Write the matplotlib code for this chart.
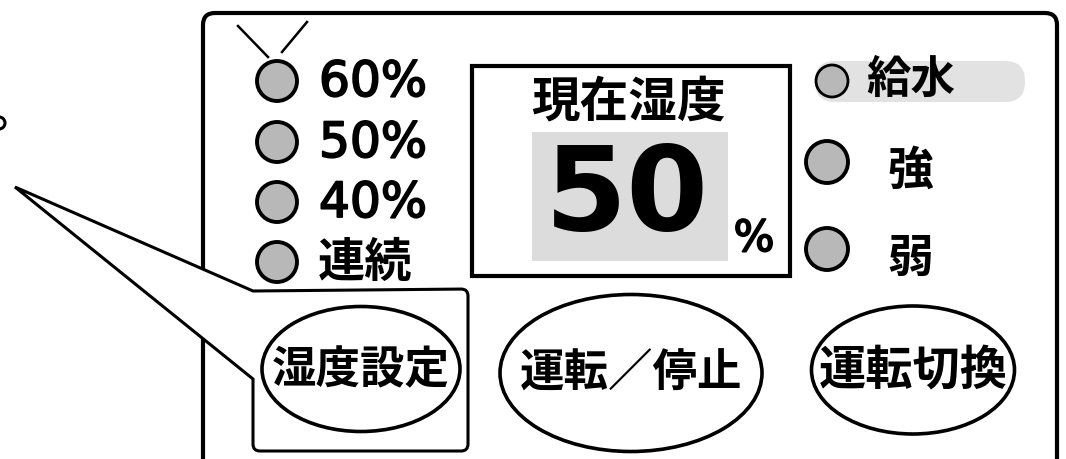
import matplotlib.pyplot as plt
import matplotlib.patheffects as pe
from matplotlib.patches import Circle, Ellipse, Rectangle, FancyBboxPatch, PathPatch
from matplotlib.path import Path

# Control panel contents
humidity_levels = ["60%", "50%", "40%", "連続"]
display_title = "現在湿度"
display_value = "50"
display_unit = "%"
status_labels = ["給水", "強", "弱"]
button_labels = ["湿度設定", "運転／停止", "運転切換"]

JP = ["Noto Sans CJK JP", "DejaVu Sans"]
LED_GRAY = "#b8b8b8"
# slightly heavier than regular DejaVu, lighter than bold
medium = [pe.withStroke(linewidth=1.3, foreground="black")]


def rounded_poly(ax, pts, radius, **kw):
    # polygon with a rounded corner wherever radius > 0
    verts, codes = [], []
    n = len(pts)
    for i, (p, r) in enumerate(zip(pts, radius)):
        if r == 0:
            verts.append(p)
            codes.append(Path.MOVETO if i == 0 else Path.LINETO)
            continue
        prev, nxt = pts[i - 1], pts[(i + 1) % n]
        def toward(a, b, d):
            dx, dy = b[0] - a[0], b[1] - a[1]
            L = (dx * dx + dy * dy) ** 0.5
            return (a[0] + dx / L * d, a[1] + dy / L * d)
        verts += [toward(p, prev, r), p, toward(p, nxt, r)]
        codes += [Path.MOVETO if i == 0 else Path.LINETO, Path.CURVE3, Path.CURVE3]
    verts.append(verts[0])
    codes.append(Path.CLOSEPOLY)
    ax.add_patch(PathPatch(Path(verts, codes), **kw))


fig = plt.figure(figsize=(10.66, 4.6), dpi=100)
ax = fig.add_axes([0, 0, 1, 1])
ax.set_xlim(0, 1066)
ax.set_ylim(460, 0)
ax.axis("off")

# main panel (runs off the bottom)
ax.add_patch(FancyBboxPatch((203, 14), 854, 520, boxstyle="round,pad=0,rounding_size=12",
                            fc="white", ec="black", lw=3, zorder=1))

# callout bubble around the humidity button
rounded_poly(ax, [(15, 188), (253, 292), (468, 290), (468, 452), (253, 452), (253, 380)],
             [0, 0, 7, 7, 7, 0], fc="white", ec="black", lw=2.2, zorder=2)

# clipped glyph fragment at the left edge
ax.add_patch(Circle((-1, 124), 6, fc="none", ec="black", lw=2.2, zorder=2))

# antenna marks over the first LED
ax.plot([238, 268], [27, 58], color="black", lw=1.8, zorder=3)
ax.plot([307, 282], [23, 53], color="black", lw=1.8, zorder=3)

# humidity level LEDs
led_y = [82, 143, 203, 263]
for y, lab in zip(led_y, humidity_levels):
    ax.add_patch(Circle((277, y), 20, fc=LED_GRAY, ec="black", lw=2.8, zorder=3))
    if lab.endswith("%"):
        ax.text(319, y + 1, lab, fontsize=35, family="DejaVu Sans", path_effects=medium,
                ha="left", va="center", zorder=4)
    else:
        ax.text(318, y, lab, fontsize=34, family=JP, weight="bold", ha="left", va="center", zorder=4)

# display window
ax.add_patch(Rectangle((472, 67), 318, 210, fc="white", ec="black", lw=3, zorder=3))
ax.add_patch(Rectangle((532, 133), 196, 129, fc="#dcdcdc", ec="none", zorder=3))
ax.text(628, 102, display_title, fontsize=35, family=JP, weight="bold", ha="center", va="center", zorder=4)
ax.text(627, 198, display_value, fontsize=85, family="DejaVu Sans", weight="bold",
        ha="center", va="center", zorder=4)
ax.text(754, 240, display_unit, fontsize=31, family="DejaVu Sans", path_effects=medium,
        ha="center", va="center", zorder=4)

# status LEDs on the right
ax.add_patch(FancyBboxPatch((815, 62), 210, 41, boxstyle="round,pad=0,rounding_size=20",
                            fc="#e2e2e2", ec="none", zorder=3))
ax.add_patch(Circle((832, 82), 16, fc=LED_GRAY, ec="black", lw=2.0, zorder=4))
ax.text(911, 80, status_labels[0], fontsize=32, family=JP, weight="bold", ha="center", va="center", zorder=5)
for y, lab in zip([163, 250], status_labels[1:]):
    ax.add_patch(Circle((827, y), 21, fc=LED_GRAY, ec="black", lw=2.8, zorder=4))
    ax.text(910, y + 9, lab, fontsize=33, family=JP, weight="bold", ha="center", va="center", zorder=5)

# buttons
buttons = [((361, 370), 198, 125, 32), ((631, 374), 262, 157, 32), ((913, 371), 203, 128, 34)]
for (c, w, h, fs), lab in zip(buttons, button_labels):
    ax.add_patch(Ellipse(c, w, h, fc="white", ec="black", lw=2.6, zorder=4))
    ax.text(c[0], c[1], lab, fontsize=fs, family=JP, weight="bold", ha="center", va="center", zorder=5)

fig.savefig("out.png", dpi=100)
